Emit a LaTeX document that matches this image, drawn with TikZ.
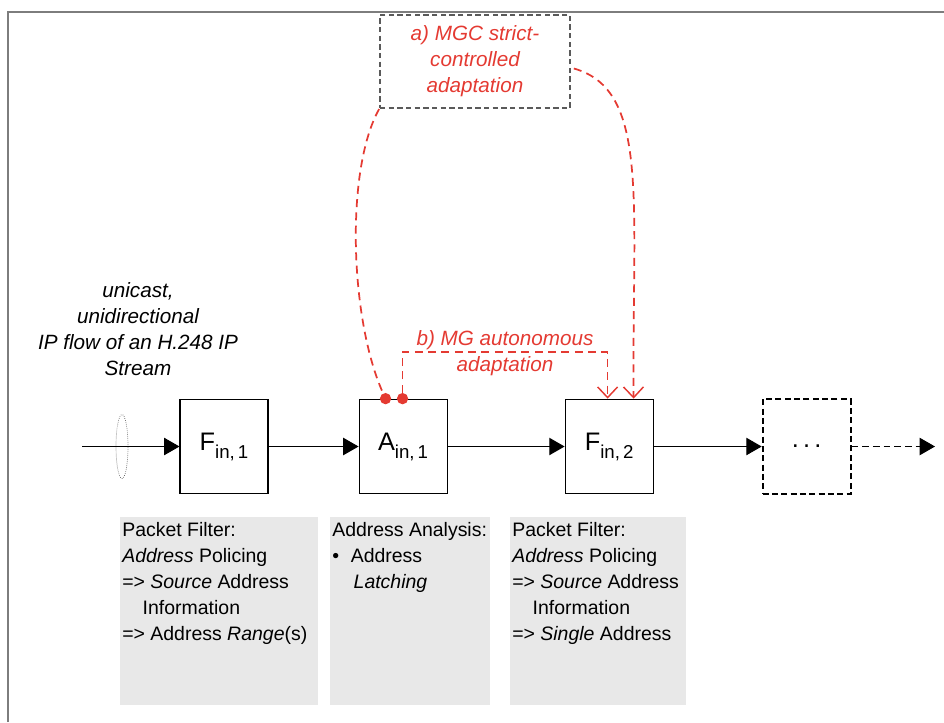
\documentclass[tikz,border=0pt]{standalone}
\definecolor{adaptred}{RGB}{228, 58, 50}
\definecolor{framegrey}{RGB}{125, 125, 125}
\definecolor{boxgrey}{RGB}{90, 90, 90}
\definecolor{notegrey}{RGB}{232, 232, 232}
\usepackage{fontspec}
\setmainfont{Liberation Sans}
\usepackage{tikz}
\usetikzlibrary{arrows.meta, positioning, shapes.geometric, calc}
\newcommand{\inlabel}[2]{#1\raisebox{-6pt}{\fontsize{14}{14}\selectfont in,\,#2}}

\begin{document}
\begin{tikzpicture}[x=0.75pt, y=-0.75pt, >=Stealth, every node/.style={font=\fontsize{15.5}{19.5}\selectfont},
    block/.style={draw, rectangle, line width=0.8pt, minimum width=66pt, minimum height=71pt, inner sep=0pt, font=\fontsize{19}{20}\selectfont},
    flow/.style={line width=0.8pt, -{Triangle[length=11.5pt, width=13pt]}},
    ctrl/.style={adaptred, line width=1.3pt, dash pattern=on 6pt off 4pt},
    ctrlhead/.style={ctrl, -{Straight Barb[length=8pt, width=15pt, line width=1.1pt]}},
    latch/.style={circle, fill=adaptred, inner sep=0pt, minimum size=8.5pt},
    redlabel/.style={text=adaptred, font=\fontsize{15.5}{19.5}\selectfont\itshape, align=center},
    note/.style={fill=notegrey, anchor=north west, inner xsep=1.5pt, inner ysep=0pt, font=\fontsize{14.6}{19.5}\selectfont}]
  \useasboundingbox (0,0) rectangle (944,722);
  \draw[framegrey, line width=1.5pt] (8,722) -- (8,12) -- (944,12);

  \node[block] (F1) at (224,446.5) {\inlabel{F}{1}};
  \node[block, right=67.5pt of F1] (A1) {\inlabel{A}{1}};
  \node[block, right=87.75pt of A1] (F2) {\inlabel{F}{2}};
  \node[block, right=81pt of F2, line width=1.4pt, dash pattern=on 4.5pt off 2.5pt] (more) {.\,.\,.};
  \coordinate (src) at (82,446.5);
  \coordinate (out) at (935,446.5);
  \node[ellipse, draw=boxgrey, densely dotted, line width=0.5pt, minimum width=9pt, minimum height=48pt, inner sep=0pt] (bundle) at (122,446.5) {};
  \node[font=\fontsize{15.5}{19.5}\selectfont\itshape, align=center] (flowlbl) at (138,329) {unicast,\\unidirectional\\IP flow of an H.248 IP\\Stream};

  \draw[flow] (src) -- (F1);
  \draw[flow] (F1) -- (A1);
  \draw[flow] (A1) -- (F2);
  \draw[flow] (F2) -- (more);
  \draw[flow, dash pattern=on 5pt off 3pt] (more) -- (out);

  \node[draw=boxgrey, line width=1.3pt, dash pattern=on 4pt off 2.5pt, minimum width=142.5pt, minimum height=70pt, redlabel] (mgc) at (475,61.5) {a) MGC strict-\\controlled\\adaptation};
  \node[latch] (dot1) at ($(A1.north west)+(27,0)$) {};
  \node[latch] (dot2) at ($(A1.north west)+(44,0)$) {};
  \coordinate (tipb) at ($(F2.north west)+(43,0)$);
  \coordinate (tipa) at ($(F2.north west)+(69,0)$);
  \draw[ctrl] (mgc.south west) .. controls (345,170) and (350,320) .. (dot1);
  \draw[ctrlhead] ($(mgc.east)+(3,7)$) .. controls (650,90) and (632,200) .. (tipa);
  \draw[ctrlhead] (dot2) -- ++(0,-47) -| (tipb);
  \node[redlabel] (mglbl) at (505,353) {b) MG autonomous\\adaptation};

  \node[note] (pf1) at (120,517) {\parbox[t][141pt][t]{145.5pt}{\vspace*{4pt}\raggedright Packet Filter:\\\textit{Address} Policing\\=> \textit{Source} Address\\\hspace*{1.05em}Information\\=> Address \textit{Range}(s)}};
  \node[note] (aa1) at (330,517) {\parbox[t][141pt][t]{117pt}{\vspace*{4pt}\raggedright Address Analysis:\\\textbullet\hspace{0.6em}Address\\\hspace*{1.1em}\textit{Latching}}};
  \node[note] (pf2) at (510,517) {\parbox[t][141pt][t]{129pt}{\vspace*{4pt}\raggedright Packet Filter:\\\textit{Address} Policing\\=> \textit{Source} Address\\\hspace*{1.05em}Information\\=> \textit{Single} Address}};
\end{tikzpicture}
\end{document}
